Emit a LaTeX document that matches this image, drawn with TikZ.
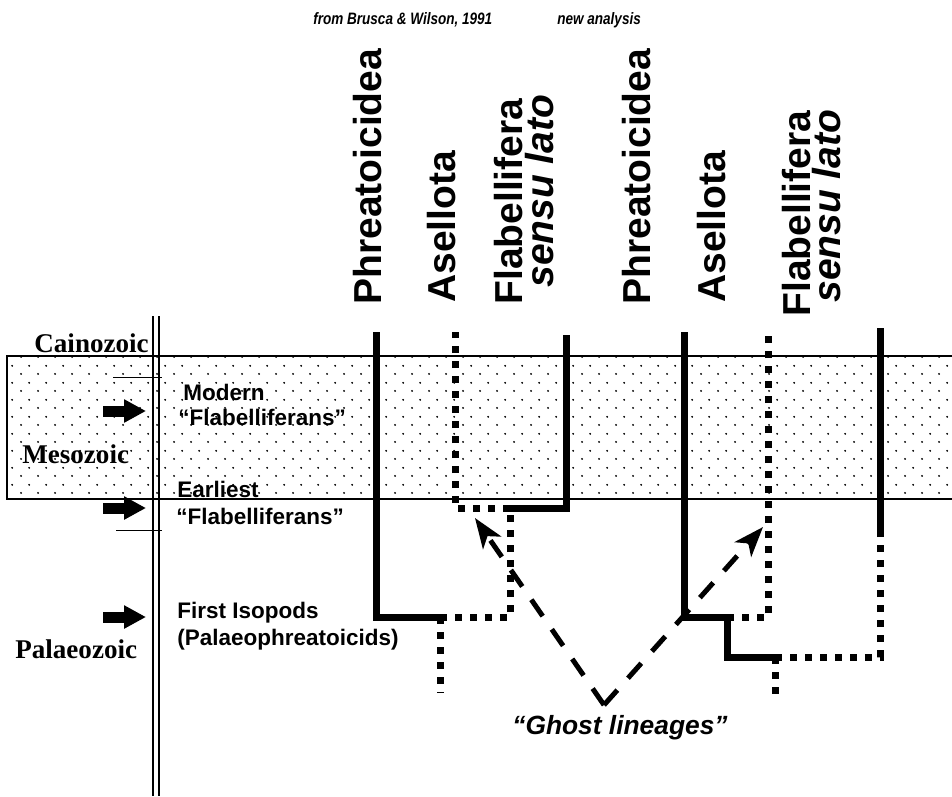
\documentclass[tikz,border=0pt]{standalone}
\usepackage{fontspec}
\setmainfont{Liberation Sans}
\newfontfamily\timesbf{Liberation Serif}
\usetikzlibrary{arrows.meta}
\usetikzlibrary{patterns.meta}

\tikzdeclarepattern{
  name=stipple, type=uncolored,
  bounding box={(0,0) and (.332cm,.332cm)},
  tile size={(.332cm,.332cm)},
  code={\pgfpathcircle{\pgfpoint{.083cm}{.083cm}}{.021cm}
        \pgfpathcircle{\pgfpoint{.249cm}{.249cm}}{.021cm}
        \pgfusepath{fill}}}

\tikzset{
  lineage/.style={line width=.14cm},
  ghost/.style={line width=.14cm, dash pattern=on .14cm off .16cm},
  hint/.style={line width=.1cm, dash pattern=on .4cm off .32cm,
    -{Stealth[length=.6cm,width=.44cm,inset=.16cm]}},
  pointer/.style={line width=.22cm, -{Triangle[length=.44cm,width=.44cm]}},
  taxon/.style={rotate=90, anchor=base west, inner sep=0,
    font=\fontsize{22.2}{26}\selectfont\bfseries},
  note/.style={anchor=base west, inner sep=0,
    font=\fontsize{12.8}{15}\selectfont\bfseries},
  era/.style={anchor=base west, inner sep=0,
    font=\fontsize{15.4}{18}\selectfont\timesbf\bfseries},
  head/.style={anchor=base west, inner sep=0, xscale=.82,
    font=\fontsize{9.4}{11}\selectfont\bfseries\itshape},
}

\begin{document}
\begin{tikzpicture}[x=.02cm, y=-.02cm]
\useasboundingbox (0,0) rectangle (952,796);
% Mesozoic band and time axis
\fill[pattern=stipple] (7,356) rectangle (952,499);
\foreach \x in {153,159} {
  \draw[line width=.04cm] (\x,316) -- (\x,796);
}
\draw[line width=.03cm] (952,356) -- (7,356) -- (7,499) -- (952,499);
\draw[line width=.02cm] (113,377) -- (162,377);
\draw[line width=.02cm] (116,530) -- (162,530);
\node[era, anchor=base east] (cai) at (149,352) {Cainozoic};
\node[era] (mes) at (22,463) {Mesozoic};
\node[era] (pal) at (15,658) {Palaeozoic};
\foreach \y in {411,508,617} {
  \draw[pointer] (103,\y) -- (146,\y);
}
\node[note] (modern) at (183,400) {Modern};
\node[note] (modernF) at (178,425) {“Flabelliferans”};
\node[note] (earliest) at (177,497) {Earliest};
\node[note] (earliestF) at (176,524) {“Flabelliferans”};
\node[note] (first) at (177,618) {First Isopods};
\node[note] (palaeo) at (177,645) {(Palaeophreatoicids)};
% headings and taxa
\node[head] (brusca) at (313,24) {from Brusca \& Wilson, 1991};
\node[head] (newan) at (557,24) {new analysis};
\node[taxon] (phrL) at (381,305) {Phreatoicidea};
\node[taxon] (aseL) at (455,303) {Asellota};
\node[taxon] (flaL) at (522,305) {Flabellifera};
\node[taxon] (senL) at (553,288) {\itshape sensu lato};
\node[taxon] (phrR) at (650,305) {Phreatoicidea};
\node[taxon] (aseR) at (725,303) {Asellota};
\node[taxon] (flaR) at (810,317) {Flabellifera};
\node[taxon] (senR) at (840,303) {\itshape sensu lato};
% left tree
\coordinate (pL) at (376,332);
\coordinate (pL1) at (376,617);
\coordinate (nL) at (440,617);
\coordinate (nLb) at (440,693);
\coordinate (kL) at (510,617);
\coordinate (kL1) at (510,508);
\coordinate (fL1) at (566,508);
\coordinate (fL) at (566,335);
\coordinate (aL1) at (455,508);
\coordinate (aL) at (455,332);
\draw[lineage] (pL) -- (pL1) -- (nL);
\draw[ghost] (nL) -- (kL) -- (kL1);
\draw[lineage] (kL1) -- (fL1) -- (fL);
\draw[ghost] (kL1) -- (aL1) -- (aL);
\draw[ghost] (nL) -- (nLb);
% right tree
\coordinate (pR) at (684,332);
\coordinate (pR1) at (684,617);
\coordinate (jR) at (727,617);
\coordinate (jR1) at (727,657);
\coordinate (mR) at (775,657);
\coordinate (mRb) at (775,700);
\coordinate (aR1) at (768,617);
\coordinate (aR) at (768,332);
\coordinate (fR2) at (880,657);
\coordinate (fR1) at (880,533);
\coordinate (fR) at (880,328);
\draw[lineage] (pR) -- (pR1) -- (jR) -- (jR1) -- (mR);
\draw[ghost] (jR) -- (aR1) -- (aR);
\draw[ghost] (mR) -- (fR2) -- (fR1);
\draw[lineage] (fR1) -- (fR);
\draw[ghost] (mR) -- (mRb);
% ghost lineages
\coordinate (vtx) at (604,705);
\coordinate (tipL) at (475,518);
\coordinate (tipR) at (763,527);
\draw[hint] (vtx) -- (tipL);
\draw[hint] (vtx) -- (tipR);
\node[anchor=base west, inner sep=0, font=\fontsize{15}{18}\selectfont\bfseries\itshape]
  (ghostlab) at (512,734) {“Ghost lineages”};
\end{tikzpicture}
\end{document}
